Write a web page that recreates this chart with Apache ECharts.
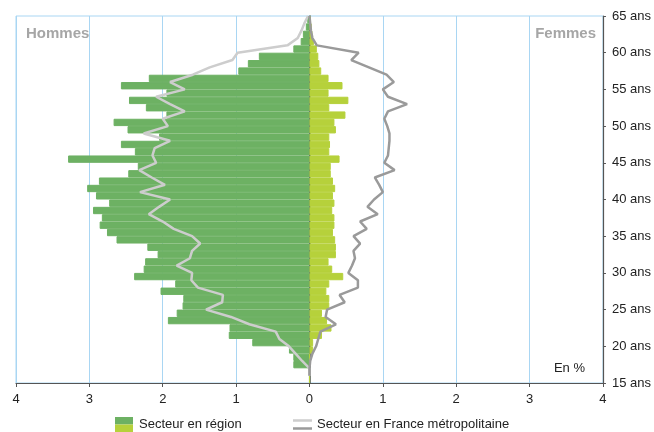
<!DOCTYPE html>
<html>
<head>
<meta charset="utf-8">
<script src="https://cdn.jsdelivr.net/npm/echarts@6/dist/echarts.min.js"></script>
<style>html,body{margin:0;padding:0;background:#fff;}#c{width:654px;height:432px;}</style>
</head>
<body>
<div id="c"></div>
<script>
// Ages for bars (each bar covers [age, age+1])
const barAges = [15,16,17,18,19,20,21,22,23,24,25,26,27,28,29,30,31,32,33,34,35,36,37,38,39,40,41,42,43,44,45,46,47,48,49,50,51,52,53,54,55,56,57,58,59,60,61,62,63,64];
// Secteur en région, hommes (%)
const menRegion = [0,0,0.22,0.22,0.28,0.78,1.10,1.09,1.93,1.81,1.73,1.72,2.03,1.83,2.39,2.26,2.24,2.07,2.21,2.63,2.76,2.86,2.83,2.95,2.73,2.91,3.03,2.87,2.47,2.34,3.29,2.38,2.57,2.05,2.48,2.67,1.95,2.23,2.46,1.95,2.57,2.19,0.97,0.84,0.69,0.22,0.12,0.09,0.05,0.03];
// Secteur en région, femmes (%)
const womenRegion = [0,0,0,0,0.05,0.05,0.17,0.30,0.24,0.17,0.27,0.27,0.23,0.27,0.46,0.31,0.26,0.36,0.36,0.35,0.32,0.34,0.34,0.31,0.34,0.32,0.35,0.32,0.29,0.29,0.41,0.27,0.28,0.27,0.36,0.34,0.49,0.27,0.53,0.26,0.45,0.26,0.16,0.135,0.12,0.10,0.06,0.04,0.03,0.02];
// Ages for France métropolitaine lines
const lineAges = [16,17,18,19,20,21,22,23,24,25,26,27,28,29,30,31,32,33,34,35,36,37,38,39,40,41,42,43,44,45,46,47,48,49,50,51,52,53,54,55,56,57,58,59,60,61,62,63,64,65];
const menFrance = [0,0,0.10,0.19,0.28,0.41,0.46,0.82,1.07,1.41,1.19,1.18,1.52,1.61,1.60,1.81,1.63,1.60,1.49,1.60,1.85,2.00,2.19,2.05,1.90,2.31,1.97,2.15,2.32,2.09,2.14,2.11,1.90,2.26,1.93,2.00,1.70,1.90,2.09,1.70,1.90,1.59,1.36,1.05,0.98,0.30,0.16,0.11,0.07,0.02];
const womenFrance = [0,0,0.01,0.04,0.09,0.12,0.15,0.36,0.22,0.24,0.48,0.41,0.66,0.66,0.53,0.58,0.62,0.60,0.69,0.60,0.78,0.69,0.93,0.79,0.88,1.00,0.95,0.89,1.16,1.02,1.07,1.08,1.09,1.09,1.06,1.02,1.07,1.33,1.07,1.00,1.15,1.05,0.81,0.57,0.67,0.10,0.04,0.02,0.01,0];
// Axis ticks
const xTicks = [-4,-3,-2,-1,0,1,2,3,4];
const ageTicks = [15,20,25,30,35,40,45,50,55,60,65];

const FONT = "'Liberation Sans', Arial, sans-serif";
const C_MEN = '#6db163', C_WOMEN = '#b6d13b', C_FR_MEN = '#cdcdcd', C_FR_WOMEN = '#9a9a9a';

const chart = echarts.init(document.getElementById('c'), null, {renderer:'canvas'});
chart.setOption({
  animation: false,
  textStyle: {fontFamily: FONT},
  grid: {left: 16, right: 49, top: 16, bottom: 49, show: true, borderColor: '#a9d6f3', borderWidth: 1, containLabel: false},
  xAxis: {
    type: 'value', min: xTicks[0], max: xTicks[xTicks.length-1], interval: 1,
    axisLine: {show: true, onZero: false, lineStyle: {color: '#555', width: 1.2}},
    axisTick: {show: true, length: 4, lineStyle: {color: '#555'}},
    axisLabel: {fontSize: 13, color: '#222', margin: 10, fontFamily: FONT, formatter: v => String(Math.abs(v))},
    splitLine: {show: true, lineStyle: {color: '#a9d6f3', width: 1}}
  },
  yAxis: [
    {
      type: 'category', data: barAges.map(String), boundaryGap: true,
      axisLine: {show: true, onZero: true, lineStyle: {color: '#4f5a48', width: 1.5}},
      axisTick: {show: false}, axisLabel: {show: false}, splitLine: {show: false}
    },
    {
      type: 'value', position: 'right', min: ageTicks[0], max: ageTicks[ageTicks.length-1], interval: 5,
      axisLine: {show: true, onZero: false, lineStyle: {color: '#555', width: 1.2}},
      axisTick: {show: true, length: 3, lineStyle: {color: '#555'}},
      axisLabel: {fontSize: 13, color: '#222', margin: 9, fontFamily: FONT, formatter: '{value} ans'},
      splitLine: {show: false}
    }
  ],
  series: [
    {name: 'Hommes région', type: 'bar', yAxisIndex: 0, data: menRegion.map(v => -v),
     itemStyle: {color: C_MEN, borderColor: C_MEN, borderWidth: 1}, barGap: '-100%', barCategoryGap: 0, z: 2},
    {name: 'Femmes région', type: 'bar', yAxisIndex: 0, data: womenRegion,
     itemStyle: {color: C_WOMEN, borderColor: C_WOMEN, borderWidth: 1}, barGap: '-100%', barCategoryGap: 0, z: 2},
    {name: 'Hommes France', type: 'line', yAxisIndex: 1, symbol: 'none', data: lineAges.map((a, i) => [-menFrance[i], a]),
     lineStyle: {color: C_FR_MEN, width: 2.5}, z: 5},
    {name: 'Femmes France', type: 'line', yAxisIndex: 1, symbol: 'none', data: lineAges.map((a, i) => [womenFrance[i], a]),
     lineStyle: {color: C_FR_WOMEN, width: 2.5}, z: 5}
  ],
  graphic: [
    {type: 'text', x: 26, y: 34, style: {text: 'Hommes', fontFamily: FONT, fontSize: 15, fontWeight: 'bold', fill: '#a6a6a6', textVerticalAlign: 'middle'}},
    {type: 'text', x: 596, y: 34, style: {text: 'Femmes', fontFamily: FONT, fontSize: 15, fontWeight: 'bold', fill: '#a6a6a6', textAlign: 'right', textVerticalAlign: 'middle'}},
    {type: 'text', x: 585, y: 368, style: {text: 'En %', fontFamily: FONT, fontSize: 13, fill: '#222', textAlign: 'right', textVerticalAlign: 'middle'}},
    {type: 'rect', shape: {x: 115, y: 417, width: 18, height: 7.5}, style: {fill: C_MEN}},
    {type: 'rect', shape: {x: 115, y: 424.5, width: 18, height: 7.5}, style: {fill: C_WOMEN}},
    {type: 'text', x: 139, y: 424, style: {text: 'Secteur en région', fontFamily: FONT, fontSize: 13, fill: '#222', textVerticalAlign: 'middle'}},
    {type: 'line', shape: {x1: 293, y1: 420.5, x2: 312, y2: 420.5}, style: {stroke: C_FR_MEN, lineWidth: 2.5}},
    {type: 'line', shape: {x1: 293, y1: 428.5, x2: 312, y2: 428.5}, style: {stroke: C_FR_WOMEN, lineWidth: 2.5}},
    {type: 'text', x: 317, y: 424, style: {text: 'Secteur en France métropolitaine', fontFamily: FONT, fontSize: 13, fill: '#222', textVerticalAlign: 'middle'}}
  ]
});
</script>
</body>
</html>
